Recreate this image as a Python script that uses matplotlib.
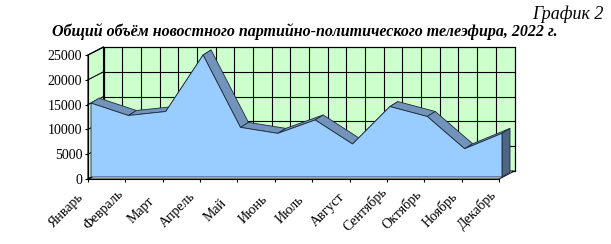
import matplotlib
matplotlib.use('Agg')
import matplotlib.pyplot as plt
import numpy as np
from matplotlib.patches import Polygon
from matplotlib.transforms import ScaledTranslation

months = ['Январь', 'Февраль', 'Март', 'Апрель', 'Май', 'Июнь',
          'Июль', 'Август', 'Сентябрь', 'Октябрь', 'Ноябрь', 'Декабрь']
values = [14900, 12400, 13200, 24600, 10000, 8800,
          11500, 6650, 14200, 12200, 5700, 8800]
yticks = [0, 5000, 10000, 15000, 20000, 25000]
title = 'Общий объём новостного партийно-политического телеэфира, 2022 г.'
label = 'График 2'

plt.rcParams['font.family'] = ['Liberation Serif', 'DejaVu Serif']

W, H = 611, 244
fig = plt.figure(figsize=(W / 100, H / 100), dpi=100)
ax_l, ax_b, ax_w, ax_h = 88, 65, 411, 124
ax = fig.add_axes([ax_l / W, ax_b / H, ax_w / W, ax_h / H])
xmax = len(months) - 1
ymax = yticks[-1]
ax.set_xlim(0, xmax)
ax.set_ylim(0, ymax)
ax.patch.set_visible(False)
for s in ['top', 'right']:
    ax.spines[s].set_visible(False)

# pixel -> data unit conversion for the pseudo-3D depth
px = xmax / ax_w
py = ymax / ax_h


def off(x, y, dx, dy):
    return (x + dx * px, y + dy * py)


WALL = (15.5, 8)
SF = (3, 2)
SB = (11, 7)

# back wall
wall = Polygon([off(0, 0, *WALL), off(xmax, 0, *WALL), off(xmax, ymax, *WALL), off(0, ymax, *WALL)],
               closed=True, fc='#CCFFCC', ec='black', lw=0.8, transform=ax.transData, clip_on=False, zorder=1)
ax.add_patch(wall)
for xv in np.arange(0, xmax + 0.01, 0.5):
    p0, p1 = off(xv, 0, *WALL), off(xv, ymax, *WALL)
    ax.plot([p0[0], p1[0]], [p0[1], p1[1]], color='black', lw=0.8, clip_on=False, zorder=1.1)
for yv in yticks:
    p0, p1 = off(0, yv, *WALL), off(xmax, yv, *WALL)
    ax.plot([p0[0], p1[0]], [p0[1], p1[1]], color='black', lw=0.8, clip_on=False, zorder=1.1)

# left side wall
side = Polygon([(0, 0), (0, ymax), off(0, ymax, *WALL), off(0, 0, *WALL)], closed=True,
               fc='#CCFFCC', ec='black', lw=0.8, clip_on=False, zorder=1.2)
ax.add_patch(side)
for yv in yticks:
    p1 = off(0, yv, *WALL)
    ax.plot([0, p1[0]], [yv, p1[1]], color='black', lw=0.8, clip_on=False, zorder=1.3)

# floor
floor = Polygon([(0, 0), (xmax, 0), off(xmax, 0, *WALL), off(0, 0, *WALL)], closed=True,
                fc='white', ec='black', lw=0.7, clip_on=False, zorder=1.2)
ax.add_patch(floor)

# series ribbons (top faces)
for i in range(xmax):
    poly = [off(i, values[i], *SF), off(i + 1, values[i + 1], *SF),
            off(i + 1, values[i + 1], *SB), off(i, values[i], *SB)]
    ax.add_patch(Polygon(poly, closed=True, fc='#7293BA', ec='#1c2a3c', lw=0.6,
                         clip_on=False, zorder=2))
# right side face
rs = [off(xmax, 0, *SF), off(xmax, values[-1], *SF), off(xmax, values[-1], *SB), off(xmax, 0, *SB)]
ax.add_patch(Polygon(rs, closed=True, fc='#4E6680', ec='#1c2a3c', lw=0.6, clip_on=False, zorder=2))

# front face
front = [off(0, 0, *SF)] + [off(i, v, *SF) for i, v in enumerate(values)] + [off(xmax, 0, *SF)]
ax.add_patch(Polygon(front, closed=True, fc='#99CCFF', ec='#1c2a3c', lw=0.6, clip_on=False, zorder=3))

# axes
ax.spines['left'].set_zorder(5)
ax.spines['bottom'].set_zorder(5)
ax.spines['left'].set_linewidth(0.8)
ax.spines['bottom'].set_linewidth(0.8)
ax.set_xticks(range(len(months)))
ax.set_xticklabels(months, rotation=45, ha='center', va='center', fontsize=10)
ax.set_yticks(yticks)
ax.set_yticklabels([str(v) for v in yticks], fontsize=10)
ax.tick_params(axis='both', direction='out', length=2.2, width=0.8)
ax.tick_params(axis='y', pad=2)
ax.tick_params(axis='x', pad=20)
shift = ScaledTranslation(-22 / 100, 0, fig.dpi_scale_trans)
for lab in ax.get_xticklabels():
    lab.set_transform(lab.get_transform() + shift)

fig.text(52 / W, 1 - 32 / H, title, fontsize=11.5, fontweight='bold', fontstyle='italic',
         ha='left', va='center')
fig.text(604 / W, 1 - 14 / H, label, fontsize=13, fontstyle='italic', ha='right', va='center')

fig.savefig('out.png', dpi=100)
